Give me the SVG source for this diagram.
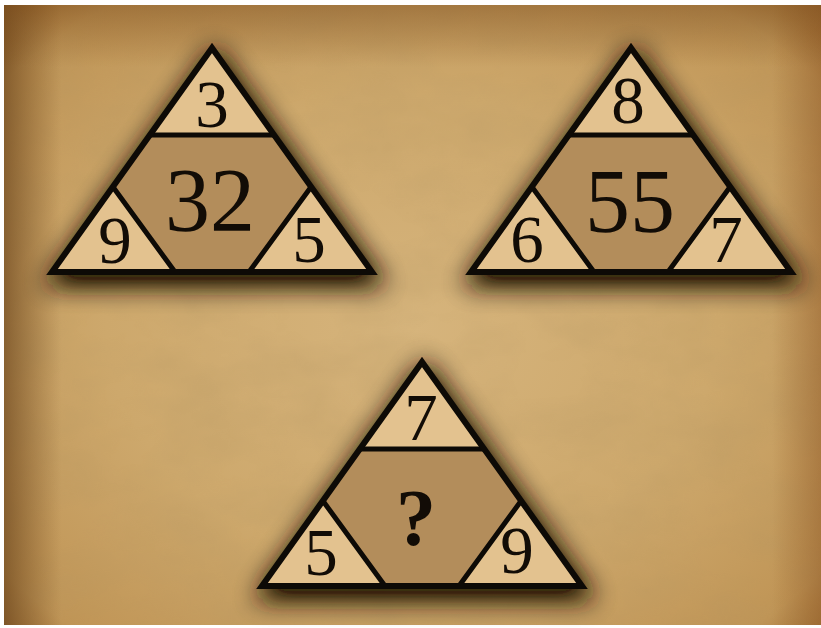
<svg xmlns="http://www.w3.org/2000/svg" xmlns:xlink="http://www.w3.org/1999/xlink" width="821" height="628" viewBox="0 0 821 628">
  <defs>
    <radialGradient id="bg" cx="0.5" cy="0.52" r="0.75">
      <stop offset="0" stop-color="#d6b47c"/>
      <stop offset="0.5" stop-color="#cda86c"/>
      <stop offset="0.85" stop-color="#c09556"/>
      <stop offset="1" stop-color="#9b6a2f"/>
    </radialGradient>
    <linearGradient id="edgeL" x1="0" y1="0" x2="1" y2="0">
      <stop offset="0" stop-color="#5e3812" stop-opacity="0.6"/>
      <stop offset="0.07" stop-color="#6b4217" stop-opacity="0"/>
      <stop offset="0.94" stop-color="#8a5220" stop-opacity="0"/>
      <stop offset="1" stop-color="#8a5220" stop-opacity="0.45"/>
    </linearGradient>
    <linearGradient id="edgeT" x1="0" y1="0" x2="0" y2="1">
      <stop offset="0" stop-color="#7a4a1a" stop-opacity="0.45"/>
      <stop offset="0.1" stop-color="#7a4a1a" stop-opacity="0"/>
    </linearGradient>
    <filter id="tex" x="0" y="0" width="100%" height="100%">
      <feTurbulence type="fractalNoise" baseFrequency="0.012 0.02" numOctaves="4" seed="7"/>
      <feColorMatrix type="matrix" values="0 0 0 0 0.45  0 0 0 0 0.3  0 0 0 0 0.12  0 0 0 -1.1 0.75"/>
    </filter>
    <filter id="shadow" x="-40%" y="-40%" width="180%" height="180%">
      <feGaussianBlur stdDeviation="13"/>
      <feComponentTransfer>
        <feFuncA type="linear" slope="1.4"/>
      </feComponentTransfer>
    </filter>
    <path id="outer" d="M0,0 L-160,224 L160,224 Z"/>
    <path id="tTop" d="M0,0 L-62,87 L62,87 Z"/>
    <path id="tLeft" d="M-160,224 L-99,139 L-37,224 Z"/>
    <path id="tRight" d="M160,224 L99,139 L37,224 Z"/>
    <g id="tri">
      <use xlink:href="#outer" class="shadow"/>
      <use xlink:href="#outer" class="hex"/>
      <use xlink:href="#tTop" class="light"/>
      <use xlink:href="#tLeft" class="light"/>
      <use xlink:href="#tRight" class="light"/>
      <path d="M-62,87 L62,87 M-99,139 L-37,224 M99,139 L37,224" class="line"/>
      <use xlink:href="#outer" class="edge"/>
    </g>
  </defs>
  <style>
    .shadow { fill: #241404; stroke: #241404; stroke-width: 12; opacity: 0.85; filter: url(#shadow); transform: translate(3px, 8px); }
    .hex { fill: #b38d5b; }
    .light { fill: #e3c28f; }
    .line { fill: none; stroke: #0d0a06; stroke-width: 5; }
    .edge { fill: none; stroke: #0d0a06; stroke-width: 6; stroke-linejoin: miter; }
    .num { font-family: "Liberation Serif", "DejaVu Serif", serif; fill: #120c06; text-anchor: middle; }
    .sm { font-size: 67px; }
    .lg { font-size: 90px; }
  </style>

  <rect x="0" y="0" width="821" height="628" fill="#ffffff"/>
  <rect x="4" y="5" width="817" height="620" fill="url(#bg)"/>
  <rect x="4" y="5" width="817" height="620" filter="url(#tex)" opacity="0.4"/>
  <rect x="4" y="5" width="817" height="620" fill="url(#edgeL)"/>
  <rect x="4" y="5" width="817" height="620" fill="url(#edgeT)"/>

  <g id="triangle-1" transform="translate(212,48)">
    <use xlink:href="#tri"/>
    <text class="num sm" x="0" y="79">3</text>
    <text class="num lg" x="-2" y="183">32</text>
    <text class="num sm" x="-97" y="215">9</text>
    <text class="num sm" x="97" y="214">5</text>
  </g>

  <g id="triangle-2" transform="translate(631,48)">
    <use xlink:href="#tri"/>
    <text class="num sm" x="-3" y="75">8</text>
    <text class="num lg" x="-1" y="184">55</text>
    <text class="num sm" x="-104" y="214">6</text>
    <text class="num sm" x="95" y="214">7</text>
  </g>

  <g id="triangle-3" transform="translate(422,362)">
    <use xlink:href="#tri"/>
    <text class="num sm" x="-1" y="78">7</text>
    <text class="num" x="-6" y="183" font-weight="bold" font-size="80">?</text>
    <text class="num sm" x="-101" y="213">5</text>
    <text class="num sm" x="95" y="211">9</text>
  </g>
</svg>
